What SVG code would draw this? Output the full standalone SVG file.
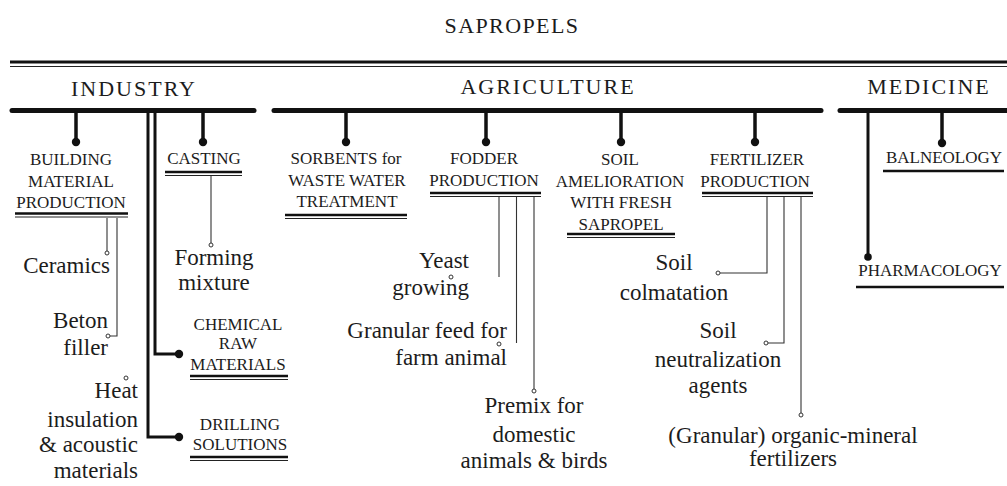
<svg xmlns="http://www.w3.org/2000/svg" width="1007" height="486" viewBox="0 0 1007 486">
<style>
text{font-family:'Liberation Serif','Times New Roman',serif;fill:#1c1c1c}
.hd{font-size:22px;letter-spacing:2px;text-anchor:middle}
.tt{font-size:22px;letter-spacing:1.4px;text-anchor:middle}
.nd{font-size:17px;text-anchor:middle}
.lf{font-size:23px}
.mid{text-anchor:middle}
.end{text-anchor:end}
.bar{stroke:#111;stroke-width:5;stroke-linecap:round;fill:none}
.drop{stroke:#111;stroke-width:3.5;fill:none}
.trunk{stroke:#111;stroke-width:3;fill:none}
.thin{stroke:#333;stroke-width:1.1;fill:none}
.ulk{stroke:#111;stroke-width:2.4}
.ult{stroke:#222;stroke-width:1}
.dot{fill:#111}
.cir{fill:#fff;stroke:#333;stroke-width:1}
</style>
<rect width="1007" height="486" fill="#fff"/>
<g id="title">
<text class="tt" x="512" y="33">SAPROPELS</text>
<line x1="10" y1="62" x2="1007" y2="62" stroke="#111" stroke-width="3.2"/>
<line x1="10" y1="66.5" x2="1007" y2="66.5" stroke="#222" stroke-width="1.2"/>
</g>
<g id="industry">
<text class="hd" x="134" y="96">INDUSTRY</text>
<line class="bar" x1="12" y1="110.5" x2="254" y2="110.5"/>
</g>
<g id="agriculture">
<text class="hd" x="548" y="94">AGRICULTURE</text>
<line class="bar" x1="274" y1="110.5" x2="821" y2="110.5"/>
</g>
<g id="medicine">
<text class="hd" x="929" y="94">MEDICINE</text>
<line class="bar" x1="840" y1="110.5" x2="1010" y2="110.5"/>
</g>
<g id="connectors">
<line class="drop" x1="76" y1="111" x2="76" y2="142"/><circle class="dot" cx="76" cy="142" r="4.2"/>
<line class="drop" x1="203" y1="111" x2="203" y2="142"/><circle class="dot" cx="203" cy="142" r="4.2"/>
<polyline class="trunk" points="148,111 148,437 179,437"/><circle class="dot" cx="179" cy="437" r="4.2"/>
<polyline class="trunk" points="155,111 155,354 179,354" stroke-width="2.5"/><circle class="dot" cx="179" cy="354" r="4.2"/>
<line class="drop" x1="346" y1="111" x2="346" y2="142"/><circle class="dot" cx="346" cy="142" r="4.2"/>
<line class="drop" x1="486" y1="111" x2="486" y2="142"/><circle class="dot" cx="486" cy="142" r="4.2"/>
<line class="drop" x1="621" y1="111" x2="621" y2="142"/><circle class="dot" cx="621" cy="142" r="4.2"/>
<line class="drop" x1="755" y1="111" x2="755" y2="142"/><circle class="dot" cx="755" cy="142" r="4.2"/>
<line class="drop" x1="942" y1="111" x2="942" y2="143"/><circle class="dot" cx="942" cy="143" r="4.2"/>
<line class="trunk" x1="868" y1="111" x2="868" y2="257" stroke-width="2"/><circle class="dot" cx="868" cy="257" r="3.8"/>
<line class="thin" x1="107" y1="218" x2="107" y2="251"/><circle class="cir" cx="107" cy="253" r="2"/>
<polyline class="thin" points="117,218 117,336 110,336"/><circle class="cir" cx="108" cy="336" r="2"/>
<circle class="cir" cx="126" cy="378" r="2"/>
<line class="thin" x1="211" y1="176" x2="211" y2="243" stroke="#666"/><circle class="cir" cx="211" cy="245" r="2"/>
<line class="thin" x1="499" y1="196" x2="499" y2="277"/><circle class="cir" cx="451" cy="277" r="2"/>
<line class="thin" x1="516.5" y1="196" x2="516.5" y2="343"/><circle class="cir" cx="499" cy="344" r="2"/>
<line class="thin" x1="534" y1="196" x2="534" y2="389"/><circle class="cir" cx="534" cy="391" r="2"/>
<polyline class="thin" points="767,196 767,273 720,273"/><circle class="cir" cx="718" cy="273" r="2"/>
<polyline class="thin" points="784,196 784,343 768,343"/><circle class="cir" cx="766" cy="343" r="2"/>
<line class="thin" x1="801" y1="196" x2="801" y2="413"/><circle class="cir" cx="801" cy="415" r="2"/>
</g>
<g id="building">
<text class="nd" x="71" y="165">BUILDING</text>
<text class="nd" x="71" y="187">MATERIAL</text>
<text class="nd" x="71" y="208">PRODUCTION</text>
<line class="ulk" x1="15" y1="213.5" x2="128" y2="213.5"/><line class="ult" x1="15" y1="217" x2="128" y2="217"/>
</g>
<g id="casting">
<text class="nd" x="204" y="164">CASTING</text>
<line class="ulk" x1="165" y1="172" x2="242" y2="172"/><line class="ult" x1="165" y1="175.5" x2="242" y2="175.5"/>
</g>
<g id="chemical">
<text class="nd" x="238" y="330">CHEMICAL</text>
<text class="nd" x="238" y="349">RAW</text>
<text class="nd" x="238" y="370">MATERIALS</text>
<line class="ulk" x1="190" y1="376" x2="288" y2="376"/><line class="ult" x1="190" y1="379.5" x2="288" y2="379.5"/>
</g>
<g id="drilling">
<text class="nd" x="240" y="430">DRILLING</text>
<text class="nd" x="240" y="450">SOLUTIONS</text>
<line class="ulk" x1="190" y1="457" x2="288" y2="457"/><line class="ult" x1="190" y1="460.5" x2="288" y2="460.5"/>
</g>
<g id="sorbents">
<text class="nd" x="346" y="164">SORBENTS for</text>
<text class="nd" x="347" y="186">WASTE WATER</text>
<text class="nd" x="347" y="207">TREATMENT</text>
<line class="ulk" x1="285" y1="215" x2="407" y2="215"/><line class="ult" x1="285" y1="218.5" x2="407" y2="218.5"/>
</g>
<g id="fodder">
<text class="nd" x="484" y="164">FODDER</text>
<text class="nd" x="484" y="186">PRODUCTION</text>
<line class="ulk" x1="430" y1="193" x2="541" y2="193"/><line class="ult" x1="430" y1="196.5" x2="541" y2="196.5"/>
</g>
<g id="soil-amelioration">
<text class="nd" x="620" y="165">SOIL</text>
<text class="nd" x="620" y="187">AMELIORATION</text>
<text class="nd" x="621" y="208">WITH FRESH</text>
<text class="nd" x="621" y="230">SAPROPEL</text>
<line class="ulk" x1="567" y1="234" x2="675" y2="234"/><line class="ult" x1="567" y1="237.5" x2="675" y2="237.5"/>
</g>
<g id="fertilizer">
<text class="nd" x="757" y="165">FERTILIZER</text>
<text class="nd" x="755" y="187">PRODUCTION</text>
<line class="ulk" x1="702" y1="193" x2="813" y2="193"/><line class="ult" x1="702" y1="196.5" x2="813" y2="196.5"/>
</g>
<g id="balneology">
<text class="nd" x="944" y="163">BALNEOLOGY</text>
<line class="ulk" x1="883" y1="171" x2="1004" y2="171" stroke-width="2.6"/>
</g>
<g id="pharmacology">
<text class="nd" x="930" y="276">PHARMACOLOGY</text>
<line class="ulk" x1="856" y1="287" x2="1004" y2="287" stroke-width="2.6"/>
</g>
<g id="ceramics"><text class="lf end" x="110" y="273">Ceramics</text></g>
<g id="beton"><text class="lf end" x="108" y="328">Beton</text><text class="lf end" x="108" y="355">filler</text></g>
<g id="heat">
<text class="lf end" x="138" y="398">Heat</text>
<text class="lf end" x="138" y="427">insulation</text>
<text class="lf end" x="138" y="452">&amp; acoustic</text>
<text class="lf end" x="138" y="478">materials</text>
</g>
<g id="forming"><text class="lf mid" x="214" y="265">Forming</text><text class="lf mid" x="214" y="290">mixture</text></g>
<g id="yeast"><text class="lf end" x="469" y="268">Yeast</text><text class="lf end" x="469" y="295">growing</text></g>
<g id="granular-feed"><text class="lf end" x="507" y="338">Granular feed for</text><text class="lf end" x="507" y="365">farm animal</text></g>
<g id="premix">
<text class="lf mid" x="534" y="413">Premix for</text>
<text class="lf mid" x="534" y="442">domestic</text>
<text class="lf mid" x="534" y="468">animals &amp; birds</text>
</g>
<g id="colmatation"><text class="lf mid" x="674" y="270">Soil</text><text class="lf mid" x="674" y="300">colmatation</text></g>
<g id="neutralization">
<text class="lf mid" x="718" y="338">Soil</text>
<text class="lf mid" x="718" y="367">neutralization</text>
<text class="lf mid" x="718" y="393">agents</text>
</g>
<g id="organic-mineral"><text class="lf mid" x="793" y="443">(Granular) organic-mineral</text><text class="lf mid" x="793" y="466">fertilizers</text></g>
</svg>
